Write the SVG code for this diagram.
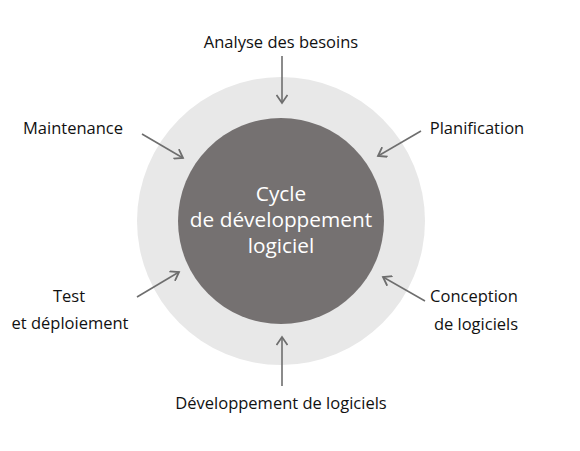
<svg xmlns="http://www.w3.org/2000/svg" width="580" height="451" viewBox="0 0 580 451">
<style>
.lbl{font-family:"Open Sans","Noto Sans",sans-serif;font-size:16.5px;fill:#111111;text-anchor:middle}
.ctr{font-family:"Open Sans","Noto Sans",sans-serif;font-size:20.8px;fill:#ffffff;text-anchor:middle}
.arr{stroke:#6e6e6e;stroke-width:1.6;fill:none;marker-end:url(#chev)}
</style>
<defs>
<marker id="chev" viewBox="0 0 12 12" refX="10" refY="6" markerWidth="12" markerHeight="12" markerUnits="userSpaceOnUse" orient="auto">
<path d="M2,0.5 L10,6 L2,11.5" fill="none" stroke="#6e6e6e" stroke-width="1.8"/>
</marker>
</defs>
<rect width="580" height="451" fill="#ffffff"/>
<g id="ring"><circle cx="281" cy="221" r="144" fill="#e8e8e8"/></g>
<g id="core">
<circle cx="281" cy="221" r="103" fill="#757171"/>
<text class="ctr" x="281" y="201">Cycle</text>
<text class="ctr" x="281" y="227">de développement</text>
<text class="ctr" x="281" y="253">logiciel</text>
</g>
<g id="connectors">
<line class="arr" x1="282" y1="56" x2="282" y2="103"/>
<line class="arr" x1="142" y1="134" x2="183" y2="158"/>
<line class="arr" x1="421" y1="131" x2="378" y2="156"/>
<line class="arr" x1="137" y1="297" x2="179" y2="272"/>
<line class="arr" x1="425" y1="301" x2="383" y2="277"/>
<line class="arr" x1="282" y1="386" x2="282" y2="337"/>
</g>
<g id="n-analyse"><text class="lbl" x="281" y="48">Analyse des besoins</text></g>
<g id="n-maintenance"><text class="lbl" x="73" y="134">Maintenance</text></g>
<g id="n-planification"><text class="lbl" x="477" y="134">Planification</text></g>
<g id="n-test"><text class="lbl" x="69" y="302">Test</text><text class="lbl" x="70" y="329">et déploiement</text></g>
<g id="n-conception"><text class="lbl" x="474" y="302">Conception</text><text class="lbl" x="476" y="330">de logiciels</text></g>
<g id="n-dev"><text class="lbl" x="281" y="409">Développement de logiciels</text></g>
</svg>
